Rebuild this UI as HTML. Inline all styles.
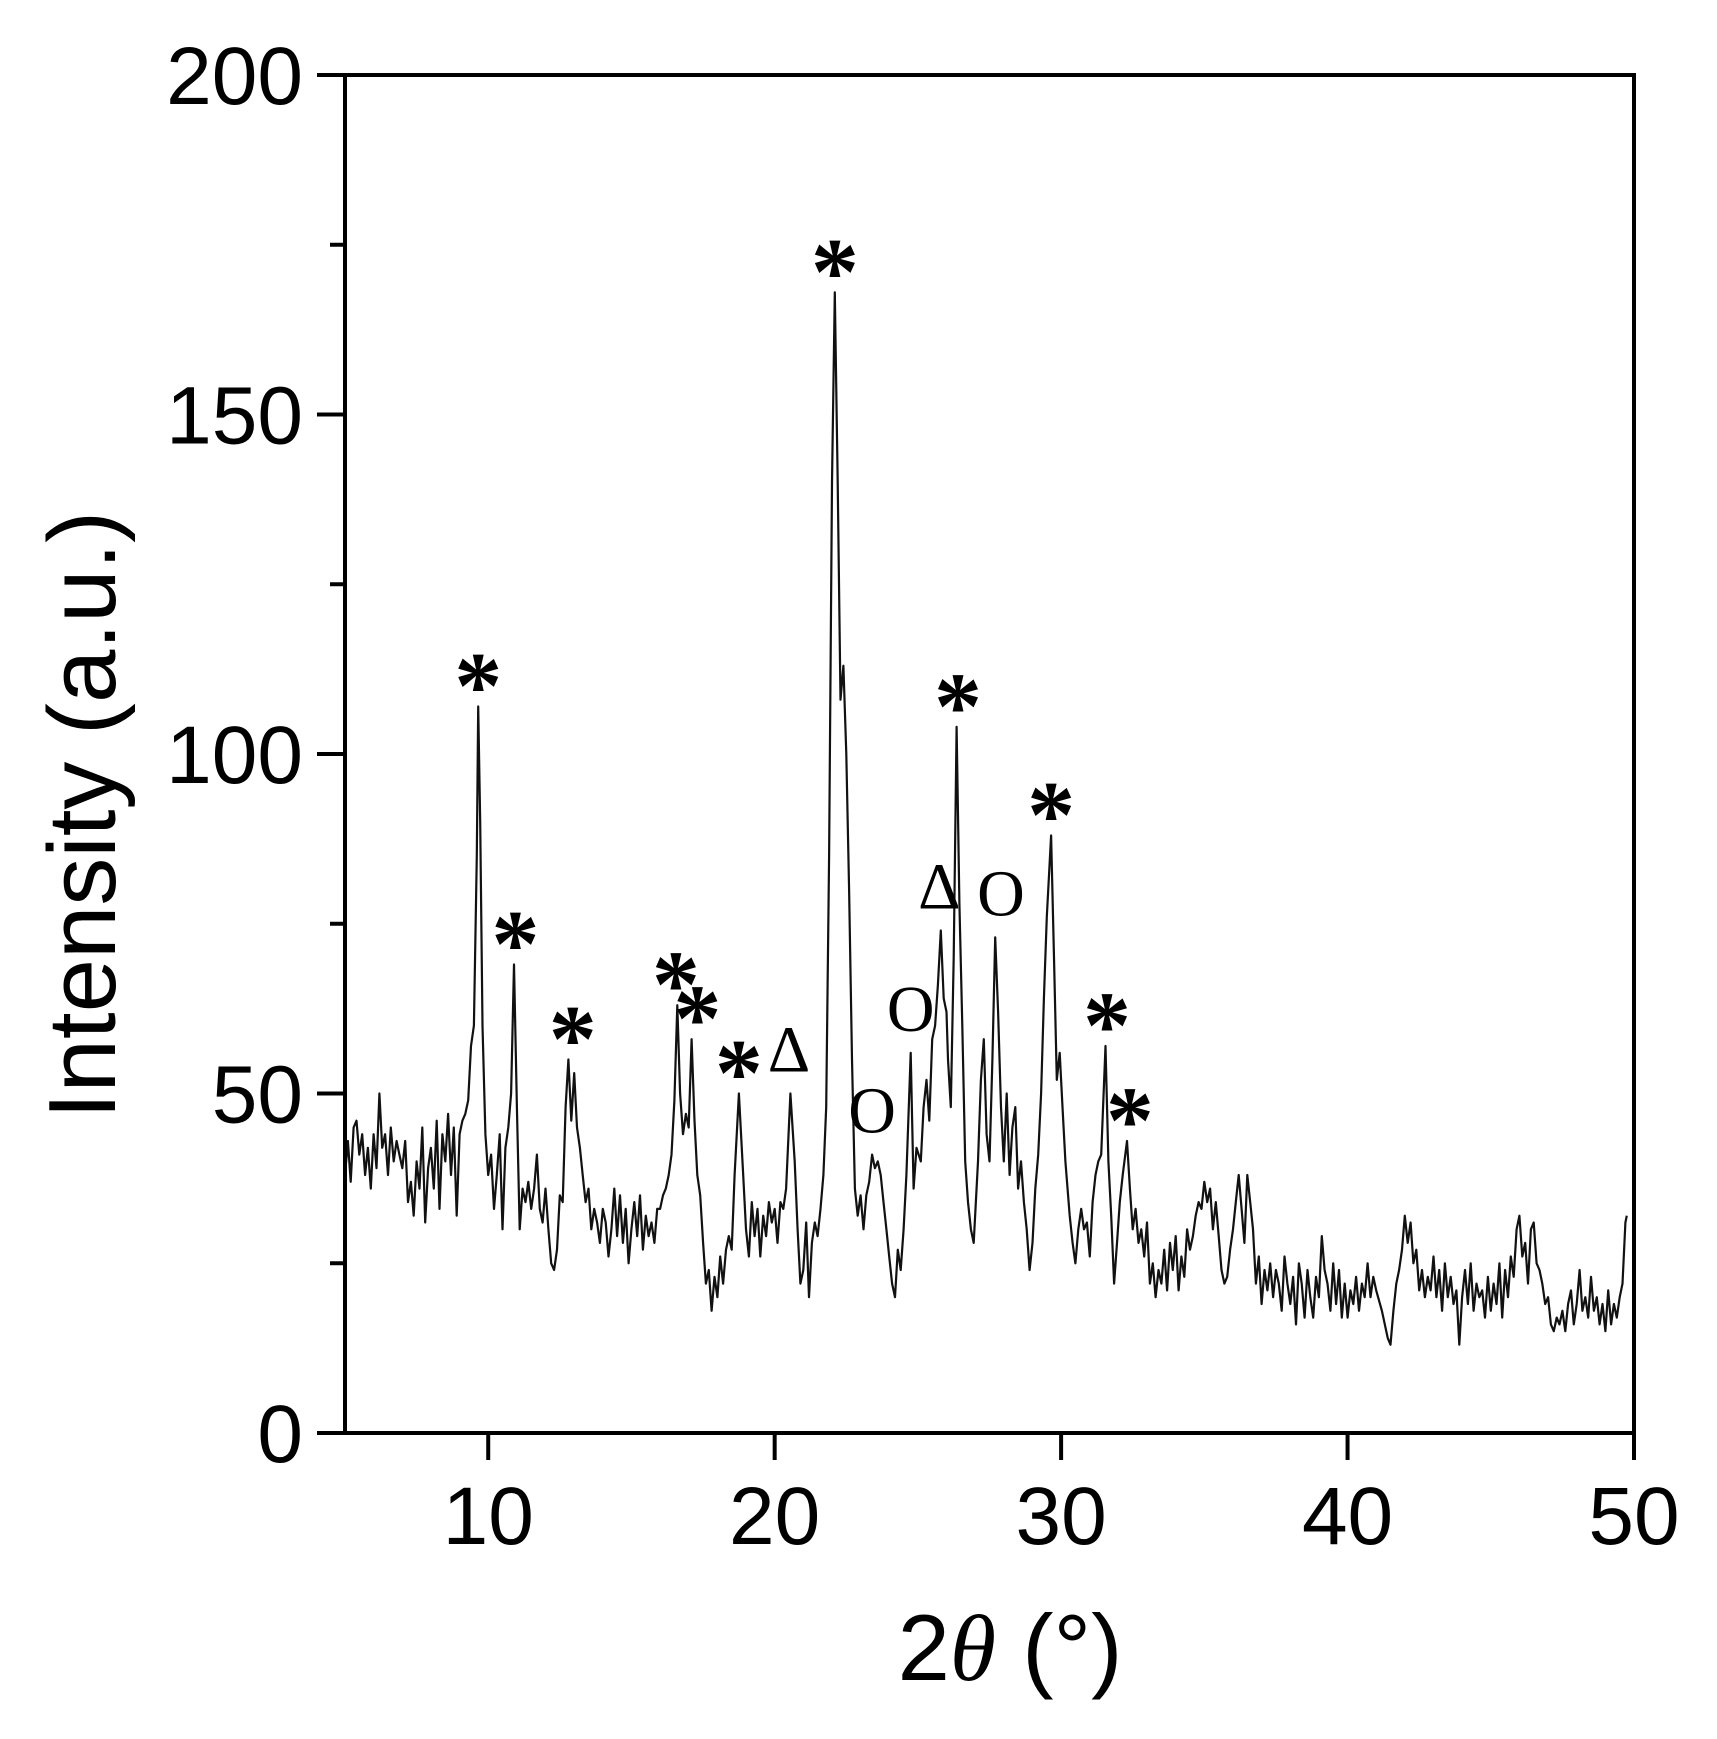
<!DOCTYPE html>
<html><head><meta charset="utf-8"><style>
html,body{margin:0;padding:0;background:#fff;}
svg{display:block;}
</style></head><body>
<svg id="chart" width="1717" height="1739" viewBox="0 0 1717 1739" xmlns="http://www.w3.org/2000/svg"></svg>
<script>
const xTicks=[10,20,30,40,50];
const yTicks=[0,50,100,150,200];
const yMinor=[25,75,125,175];
const angles=[5.0,5.1,5.2,5.3,5.4,5.5,5.6,5.7,5.8,5.9,6.0,6.1,6.2,6.3,6.4,6.5,6.6,6.7,6.8,6.9,7.0,7.1,7.2,7.3,7.4,7.5,7.6,7.7,7.8,7.9,8.0,8.1,8.2,8.3,8.4,8.5,8.6,8.7,8.8,8.9,9.0,9.1,9.2,9.3,9.4,9.5,9.6,9.65,9.72,9.8,9.9,10.0,10.1,10.2,10.3,10.4,10.5,10.6,10.7,10.8,10.9,11.0,11.1,11.2,11.3,11.4,11.5,11.6,11.7,11.8,11.9,12.0,12.1,12.2,12.3,12.4,12.5,12.6,12.7,12.8,12.9,13.0,13.1,13.2,13.3,13.4,13.5,13.6,13.7,13.8,13.9,14.0,14.1,14.2,14.3,14.4,14.5,14.6,14.7,14.8,14.9,15.0,15.1,15.2,15.3,15.4,15.5,15.6,15.7,15.8,15.9,16.0,16.1,16.2,16.3,16.4,16.5,16.6,16.7,16.8,16.9,17.0,17.1,17.2,17.3,17.4,17.5,17.6,17.7,17.8,17.9,18.0,18.1,18.2,18.3,18.4,18.5,18.6,18.75,18.9,19.0,19.1,19.2,19.3,19.4,19.5,19.6,19.7,19.8,19.9,20.0,20.1,20.2,20.3,20.4,20.55,20.7,20.8,20.9,21.0,21.1,21.2,21.3,21.4,21.5,21.6,21.7,21.8,21.9,22.0,22.1,22.2,22.3,22.4,22.5,22.6,22.7,22.8,22.9,23.0,23.1,23.2,23.3,23.4,23.5,23.6,23.7,23.8,23.9,24.0,24.1,24.2,24.3,24.4,24.5,24.6,24.75,24.85,24.95,25.1,25.2,25.3,25.4,25.5,25.6,25.7,25.8,25.9,26.0,26.05,26.15,26.25,26.35,26.45,26.55,26.65,26.75,26.85,26.95,27.1,27.2,27.3,27.4,27.5,27.6,27.7,27.8,27.9,28.0,28.1,28.2,28.3,28.4,28.5,28.6,28.7,28.8,28.9,29.0,29.1,29.2,29.3,29.4,29.5,29.65,29.75,29.85,29.95,30.05,30.15,30.3,30.4,30.5,30.6,30.7,30.8,30.9,31.0,31.1,31.2,31.3,31.4,31.55,31.65,31.75,31.85,31.95,32.05,32.15,32.3,32.4,32.5,32.6,32.7,32.8,32.9,33.0,33.1,33.2,33.3,33.4,33.5,33.6,33.7,33.8,33.9,34.0,34.1,34.2,34.3,34.4,34.5,34.6,34.7,34.8,34.9,35.0,35.1,35.2,35.3,35.4,35.5,35.6,35.7,35.8,35.9,36.0,36.1,36.2,36.3,36.4,36.5,36.6,36.7,36.8,36.9,37.0,37.1,37.2,37.3,37.4,37.5,37.6,37.7,37.8,37.9,38.0,38.1,38.2,38.3,38.4,38.5,38.6,38.7,38.8,38.9,39.0,39.1,39.2,39.3,39.4,39.5,39.6,39.7,39.8,39.9,40.0,40.1,40.2,40.3,40.4,40.5,40.6,40.7,40.8,40.9,41.0,41.2,41.4,41.5,41.6,41.7,41.8,41.9,42.0,42.1,42.2,42.3,42.4,42.5,42.6,42.7,42.8,42.9,43.0,43.1,43.2,43.3,43.4,43.5,43.6,43.7,43.8,43.9,44.0,44.1,44.2,44.3,44.4,44.5,44.6,44.7,44.8,44.9,45.0,45.1,45.2,45.3,45.4,45.5,45.6,45.7,45.8,45.9,46.0,46.1,46.2,46.3,46.4,46.5,46.6,46.7,46.8,46.9,47.0,47.1,47.2,47.3,47.4,47.5,47.6,47.7,47.8,47.9,48.0,48.1,48.2,48.3,48.4,48.5,48.6,48.7,48.8,48.9,49.0,49.1,49.2,49.3,49.4,49.5,49.6,49.7,49.75];
const intensity=[38,43,37,45,46,41,44,38,42,36,44,39,50,42,44,38,45,40,43,41,39,43,34,37,32,40,36,45,31,39,42,36,46,33,44,40,47,38,45,32,44,46,47,49,57,60,85,107,90,60,44,38,41,33,38,44,30,42,45,50,69,48,30,36,34,37,33,36,41,33,31,36,30,25,24,27,35,34,48,55,46,53,45,42,38,34,36,30,33,31,28,33,31,26,30,36,29,35,28,33,25,30,34,29,35,27,32,29,31,28,33,33,35,36,38,41,49,63,50,44,47,45,58,46,38,35,28,22,24,18,23,20,26,22,27,29,27,38,50,38,30,26,34,29,33,26,32,29,34,31,33,28,34,33,36,50,40,30,22,24,31,20,28,31,29,33,38,48,85,140,168,140,108,113,100,80,55,36,32,35,30,35,37,41,39,40,38,34,30,26,22,20,27,24,30,38,56,36,42,40,48,52,46,58,60,66,74,64,62,55,48,70,104,78,60,40,34,30,28,40,52,58,44,40,55,73,62,48,40,50,38,45,48,36,40,34,30,24,28,36,41,50,64,76,88,70,52,56,48,40,32,28,25,30,33,30,31,26,34,38,40,41,57,40,32,22,28,34,38,43,36,30,33,28,30,26,31,22,25,20,24,22,27,21,28,24,29,21,26,23,30,27,29,32,34,33,37,34,36,30,34,29,24,22,23,27,30,34,38,33,28,38,34,30,22,26,19,24,21,25,20,24,22,18,26,22,19,23,16,25,22,17,24,20,17,23,20,29,24,22,18,25,19,24,17,22,17,21,19,23,18,22,20,25,20,23,21,18,14,13,18,22,24,27,32,28,31,25,27,21,24,20,23,21,26,20,24,18,25,20,23,19,21,13,20,24,19,25,18,22,20,21,17,23,18,22,19,25,17,24,20,26,23,30,32,26,28,22,30,31,25,24,22,19,20,16,15,17,16,18,15,19,21,16,19,24,18,20,17,23,18,20,16,19,15,21,16,19,17,20,22,31,32];
const markAngles=[9.65,10.95,12.95,16.55,17.3,18.75,20.5,22.1,23.4,24.75,25.75,26.4,27.9,29.65,31.6,32.4];
const markValues=[107,69,55,63,58,50,50,168,41,56,74,104,73,88,57,43];
const markSymbols=['*','*','*','*','*','*','Δ','*','O','O','Δ','*','O','*','*','*'];

const NS='http://www.w3.org/2000/svg';
const svg=document.getElementById('chart');
const L=345,R=1634,T=75,B=1433,X0=5,X1=50,Y0=0,Y1=200;
function sx(v){return L+(v-X0)/(X1-X0)*(R-L);}
function sy(v){return B-(v-Y0)/(Y1-Y0)*(B-T);}
function mk(tag,attrs){const e=document.createElementNS(NS,tag);for(const k in attrs)e.setAttribute(k,attrs[k]);svg.appendChild(e);return e;}

let d='';
for(let i=0;i<angles.length;i++){d+=(i?'L':'M')+sx(angles[i]).toFixed(1)+' '+sy(intensity[i]).toFixed(1);}
const line=mk('path',{d:d,fill:'none',stroke:'#111',"stroke-width":2.2,"stroke-linejoin":"round"});



const frame=mk('rect',{x:L,y:T,width:R-L,height:B-T,fill:'none',stroke:'#000',"stroke-width":4});



yTicks.forEach(v=>{
  const t=mk('line',{x1:L-28,x2:L,y1:sy(v),y2:sy(v),stroke:'#000',"stroke-width":4});
  
  
  const lb=mk('text',{x:L-42,y:sy(v)+29,"text-anchor":"end","font-family":"Liberation Sans, Arial, sans-serif","font-size":82,fill:'#000'});
  lb.textContent=v;
  
  
});
yMinor.forEach(v=>{
  const t=mk('line',{x1:L-15,x2:L,y1:sy(v),y2:sy(v),stroke:'#000',"stroke-width":4});
  
  
});
xTicks.forEach(v=>{
  const t=mk('line',{x1:sx(v),x2:sx(v),y1:B,y2:B+27,stroke:'#000',"stroke-width":4});
  
  
  const lb=mk('text',{x:sx(v),y:1544,"text-anchor":"middle","font-family":"Liberation Sans, Arial, sans-serif","font-size":82,fill:'#000'});
  lb.textContent=v;
  
  
});

for(let i=0;i<markAngles.length;i++){
  const s=markSymbols[i];
  const isStar=s==='*';
  const tx=mk('text',{x:sx(markAngles[i]),y:sy(markValues[i])+(isStar?12:-22),"text-anchor":"middle","font-family":"Liberation Serif, Times New Roman, serif","font-size":isStar?96:66,"font-weight":isStar?"bold":"normal",fill:'#000'});
  tx.textContent=s;
  
  
}

const yt=mk('text',{x:0,y:0,transform:'translate(115,815) rotate(-90)',"text-anchor":"middle","font-family":"Liberation Sans, Arial, sans-serif","font-size":96,fill:'#000'});
yt.textContent='Intensity (a.u.)';



const xt=mk('text',{x:1010,y:1680,"text-anchor":"middle","font-family":"Liberation Sans, Arial, sans-serif","font-size":94,fill:'#000'});


const t1=document.createElementNS(NS,'tspan');t1.textContent='2';xt.appendChild(t1);
const t2=document.createElementNS(NS,'tspan');t2.setAttribute('font-family','Liberation Serif, serif');t2.setAttribute('font-style','italic');t2.textContent='θ';xt.appendChild(t2);
const t3=document.createElementNS(NS,'tspan');t3.textContent=' (°)';xt.appendChild(t3);
</script>
</body></html>
